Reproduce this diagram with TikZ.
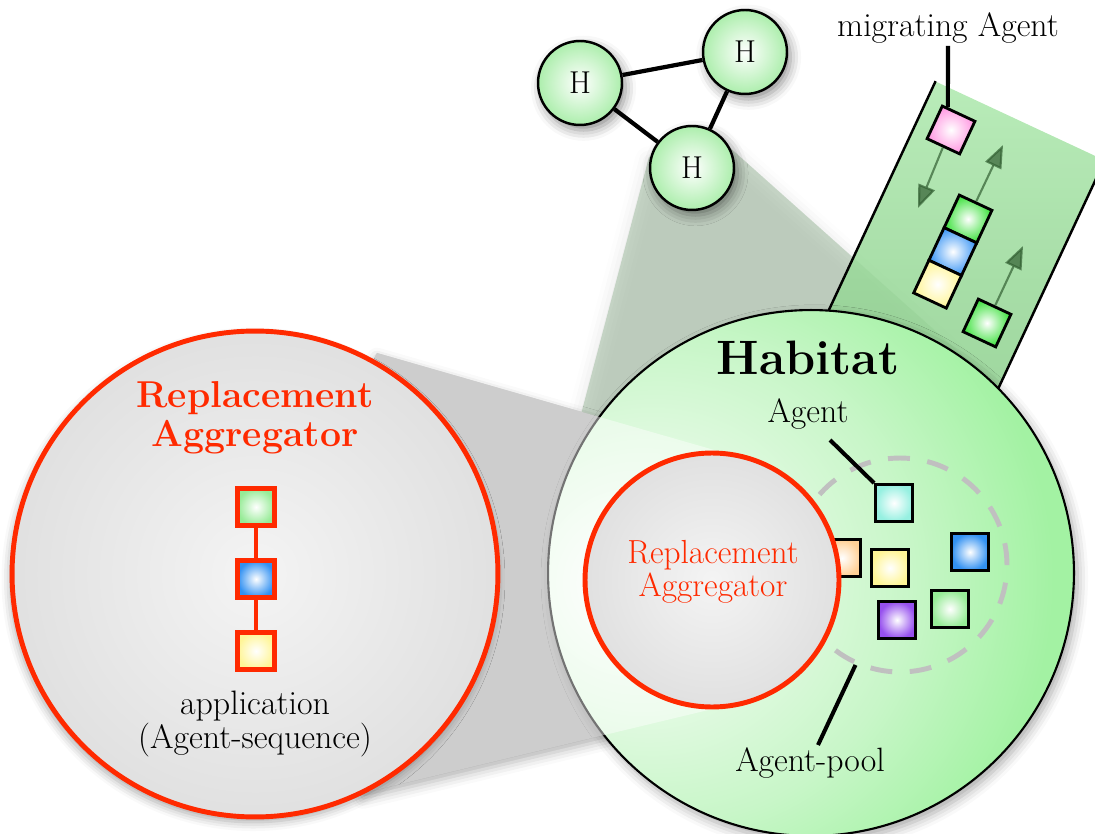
\documentclass[tikz,border=0pt]{standalone}
\usepackage{fontspec}
\usetikzlibrary{shadows.blur,arrows.meta,calc}

\definecolor{hgreen}{RGB}{163,242,163}
\definecolor{hgreenlight}{RGB}{200,246,200}
\definecolor{hnode}{RGB}{172,238,172}
\definecolor{rared}{RGB}{255,42,0}
\definecolor{gcenter}{RGB}{244,244,244}
\definecolor{gedge}{RGB}{205,205,205}
\definecolor{chtop}{RGB}{172,232,172}
\definecolor{chbot}{RGB}{132,200,132}
\definecolor{conec}{RGB}{152,182,152}
\definecolor{bandedge}{RGB}{165,165,165}
\definecolor{bandmid}{RGB}{240,240,240}
\definecolor{poolgray}{RGB}{192,192,192}
\definecolor{gar}{RGB}{50,95,50}
\definecolor{sqpink}{RGB}{255,150,225}
\definecolor{sqgreen}{RGB}{60,225,60}
\definecolor{sqblue}{RGB}{60,150,245}
\definecolor{sqyellow}{RGB}{255,245,150}
\definecolor{sqcyan}{RGB}{150,240,225}
\definecolor{sqorange}{RGB}{255,208,150}
\definecolor{sqpurple}{RGB}{150,80,238}
\definecolor{sqlgreen}{RGB}{150,235,150}
\definecolor{sqlblue}{RGB}{50,145,242}

\pgfdeclareradialshading{habshade}{\pgfpoint{-19bp}{-1bp}}{color(0bp)=(white); color(23bp)=(hgreenlight); color(34bp)=(hgreen); color(80bp)=(hgreen)}
\pgfdeclareradialshading{grayshade}{\pgfpoint{0bp}{0bp}}{color(0bp)=(gcenter); color(50bp)=(gedge); color(80bp)=(gedge)}

\tikzset{
  lbl/.style={font=\fontsize{19.2}{20}\selectfont, inner sep=0pt, align=center},
  hnodest/.style={circle, draw=black, line width=1.4pt, minimum size=1.68cm, inner sep=0pt,
    inner color=white, outer color=hnode, font=\fontsize{18}{20}\selectfont,
    blur shadow={shadow xshift=2pt, shadow yshift=-3pt, shadow blur radius=6pt, shadow opacity=45}},
  hedge/.style={line width=2.4pt, black},
  agsq/.style={draw=black, line width=1.6pt, minimum size=0.74cm, inner sep=0pt,
    inner color=white, outer color=#1},
  chsq/.style={agsq=#1, rotate=-25, minimum size=0.72cm},
  redsq/.style={draw=rared, line width=2.8pt, minimum size=0.74cm, inner sep=0pt,
    inner color=white, outer color=#1},
  redline/.style={draw=rared, line width=2.8pt},
  garrow/.style={draw=gar, opacity=0.7, line width=1.2pt, -{Triangle[length=13pt,width=10pt]}},
  blk/.style={line width=2.3pt, black},
  bigc/.style={circle, draw=rared, line width=2.8pt, inner sep=0pt, shade, shading=grayshade},
}

\begin{document}
\begin{tikzpicture}[x=0.02cm, y=-0.02cm]
\useasboundingbox (0,0) rectangle (1095,834);

% cone from H to habitat
\fill[conec, fill opacity=0.5, blur shadow={shadow xshift=0pt, shadow yshift=-2pt, shadow blur radius=8pt, shadow opacity=12}]
  (649,157) -- (718,137) -- (987,377) -- (811,573) -- (557,505) -- cycle;

% migration channel
\node[rotate=-25, minimum width=3.72cm, minimum height=7.2cm, inner sep=0pt, shade,
  top color=chtop, bottom color=chbot, fill opacity=0.85] (ch) at (944,284) {};
\draw[line width=1.4pt] (ch.north west) -- (ch.south west);
\draw[line width=1.4pt] (ch.north east) -- (ch.south east);

% H nodes
\node[hnodest] (h1) at (580,83) {H};
\node[hnodest] (h2) at (745,52) {H};
\node[hnodest] (h3) at (692,168) {H};
\draw[hedge] (h1) -- (h2);
\draw[hedge] (h1) -- (h3);
\draw[hedge] (h2) -- (h3);

% zoom band, opaque part behind the habitat
\shade[top color=bandedge, middle color=bandmid, bottom color=bandedge,
  blur shadow={shadow xshift=0pt, shadow yshift=-3pt, shadow blur radius=6pt, shadow opacity=30}]
  (377,353) -- (728,454) -- (712,580) -- (725,706) -- (363,793) -- (255,574) -- cycle;

% habitat
\node[circle, draw=black, line width=1.2pt, minimum size=10.52cm, inner sep=0pt, shade, shading=habshade,
  blur shadow={shadow xshift=2pt, shadow yshift=-3pt, shadow blur radius=6pt, shadow opacity=35}] (hab) at (811,573) {};

% agent pool
\node[circle, draw=poolgray, line width=2.8pt, dash pattern=on 12.5pt off 10pt, minimum size=4.28cm, inner sep=0pt] (pool) at (900,565) {};
\node[agsq=sqcyan] (pa) at (894,503) {};
\node[agsq=sqorange] (pb) at (842,558) {};
\node[agsq=sqyellow] (pc) at (890,568) {};
\node[agsq=sqlblue] (pd) at (970,552) {};
\node[agsq=sqpurple] (pe) at (897,620) {};
\node[agsq=sqlgreen] (pf) at (950,609) {};

% zoom band, light overlay
\fill[white, fill opacity=0.45]
  (377,353) -- (728,454) -- (712,580) -- (725,706) -- (363,793) -- (255,574) -- cycle;

% big and inner circles
\node[bigc, minimum size=9.72cm,
  blur shadow={shadow xshift=-1pt, shadow yshift=-3pt, shadow blur radius=5pt, shadow opacity=35}] (rep) at (255,574) {};
\node[bigc, minimum size=5.08cm] (inner) at (712,580) {};

% texts
\node[lbl] (migr) at (948,28) {migrating Agent};
\node[inner sep=0pt, font=\bfseries\fontsize{27.5}{30}\selectfont] (habl) at (808,358) {Habitat};
\node[lbl] (agl) at (808,414) {Agent};
\node[lbl] (pooll) at (810,763) {Agent-pool};
\node[lbl, text=rared, font=\bfseries\fontsize{21.3}{22.5}\selectfont] (repl) at (255,418) {Replacement\\Aggregator};
\node[lbl, text=rared, font=\fontsize{19}{18.5}\selectfont] (innl) at (713,572) {Replacement\\Aggregator};
\node[lbl, font=\fontsize{19.3}{19.5}\selectfont] (appl) at (255,724) {application\\(Agent-sequence)};

% label lines
\coordinate (agc) at (830,440);
\draw[blk] (agc) -- (pa.north west);
\coordinate (poolc) at (818,745);
\draw[blk] (poolc) -- (pool.-114);

% application stack
\node[redsq=sqlgreen] (ls1) at (256,507) {};
\node[redsq=sqlblue] (ls2) at (256,579) {};
\node[redsq=sqyellow] (ls3) at (256,651) {};
\draw[redline] (ls1) -- (ls2);
\draw[redline] (ls2) -- (ls3);

% channel agents
\node[chsq=sqpink] (pink) at (951,130) {};
\node[chsq=sqgreen] (gs1) at (968,219) {};
\node[chsq=sqblue] (gs2) at (952.8,251.6) {};
\node[chsq=sqyellow] (gs3) at (937.6,284.2) {};
\node[chsq=sqgreen] (gl) at (987,323) {};
\coordinate (t1) at (918,208);
\coordinate (t2) at (1003,145);
\coordinate (t3) at (1023,246);
\draw[garrow] (pink.south) -- (t1);
\draw[garrow] (gs1.north) -- (t2);
\draw[garrow] (gl.north) -- (t3);

\coordinate (migc) at (948,46);
\draw[blk] (migc) -- ($(pink.north west)!0.18!(pink.north east)$);
\end{tikzpicture}
\end{document}
